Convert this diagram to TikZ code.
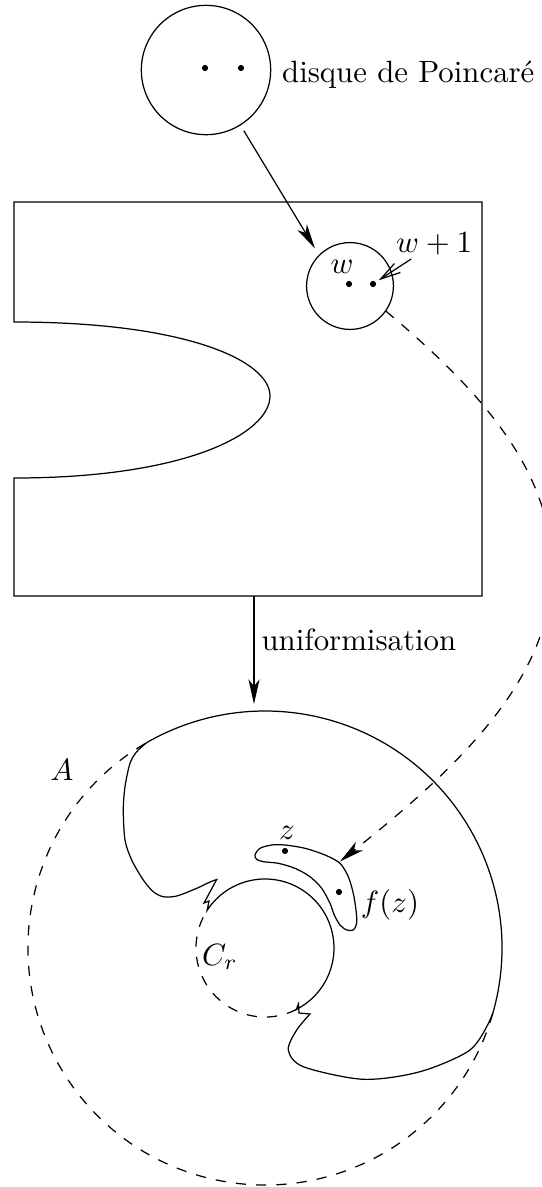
\documentclass[tikz,border=0pt]{standalone}
\usepackage{tikz}
\usetikzlibrary{arrows.meta, positioning}
\tikzset{
  cercle/.style={circle, draw, inner sep=0pt},
  point/.style={circle, fill, inner sep=0pt, minimum size=2pt},
  fleche/.style={-{Stealth[length=8pt, width=3.6pt, inset=2.2pt]}},
  flechefine/.style={-{Straight Barb[length=6.5pt, width=3.5pt]}},
  pointille/.style={dash pattern=on 3.3pt off 3.3pt},
  etiq/.style={inner sep=0pt, anchor=base west}
}
\begin{document}
\begin{tikzpicture}[x=0.3247pt, y=-0.3247pt]
  \useasboundingbox (0,0) rectangle (542,1187);
  % disque de Poincare
  \node[cercle, minimum size=42pt] (disque) at (206,70) {};
  \node[point] (p1) at (205,68) {};
  \node[point] (p2) at (241,68) {};
  \node[right=0pt of disque, yshift=-1.5pt] (lpoinc) {disque de Poincar\'e};
  % le domaine
  \draw (14,322) -- (14,202) -- (482,202) -- (482,596) -- (14,596) -- (14,478)
    .. controls (187,478) and (270,433) .. (270,396)
    .. controls (270,361) and (187,322) .. (14,322) -- cycle;
  \node[cercle, minimum size=28.2pt] (wdisc) at (350,286) {};
  \node[point] (dw) at (349,284) {};
  \node[point] (dw1) at (373,284) {};
  \node[etiq] (lw) at (330,273) {$w$};
  \node[inner sep=1pt] (lwun) at (434,244) {$w+1$};
  \draw[flechefine, shorten >=1pt] (lwun) -- (dw1);
  \draw[fleche, shorten <=2pt, shorten >=2.5pt] (disque.-58) -- (wdisc.135);
  % uniformisation
  \coordinate (rectbas) at (254,596);
  \coordinate (anntop) at (254,704);
  \draw[fleche] (rectbas) -- (anntop);
  \node[etiq] (lunif) at (261,650) {uniformisation};
  % l'anneau
  \coordinate (O) at (265,948);
  \draw[pointille] (492.8,1013.3) arc[start angle=16, end angle=240, radius=237];
  \draw[pointille] (296.3,1009.5) arc[start angle=63, end angle=213, radius=69];
  \draw (207.1,910.4) arc[start angle=213, end angle=423, radius=69]
    -- (298.5,1004) -- (299,1013) -- (310,1014)
    -- plot[smooth] coordinates {(310,1014) (296.7,1030) (288.3,1050) (303.3,1066.7)
       (363.3,1079.3) (420,1071.7) (470,1050) (490,1020)}
    -- (492.8,1013.3) arc[start angle=16, end angle=-120, radius=237]
    -- plot[smooth] coordinates {(146.5,742.8) (136.7,751.7) (130,763.3) (125,786.7)
       (123.3,810) (125,840) (131.7,860) (143.3,880) (153.3,891.7) (163.3,896.7)
       (176.7,896) (196.7,888.3) (210,882) (216.7,879.5)}
    -- (204,903) -- (209,901) -- cycle;
  % le croissant
  \draw plot[smooth cycle] coordinates {(255,855) (260,848.3) (271.7,845) (285,845)
    (305,848.3) (325,855) (340,863.3) (348.3,876.7) (353.3,893.3) (356,910)
    (356.7,923.3) (353.3,930) (346.7,930) (340,925) (334.3,915) (330,903.3)
    (321.7,888.3) (310,876.7) (295,868.3) (278.3,863.3) (263.3,861.7) (256.7,859.3)};
  \node[point] (z) at (285,851) {};
  \node[point] (fz) at (339,892) {};
  \node (lz) at (287,833) {$z$};
  \node (lfz) at (390,905) {$f(z)$};
  \node (lcr) at (220,957) {$C_r$};
  \node (la) at (62,770) {$A$};
  \coordinate (croiss) at (340,861.5);
  \draw[pointille, fleche] (wdisc.-35) .. controls (480,390) and (552,470) .. (552,570)
    .. controls (552,680) and (455,770) .. (croiss);
\end{tikzpicture}
\end{document}
